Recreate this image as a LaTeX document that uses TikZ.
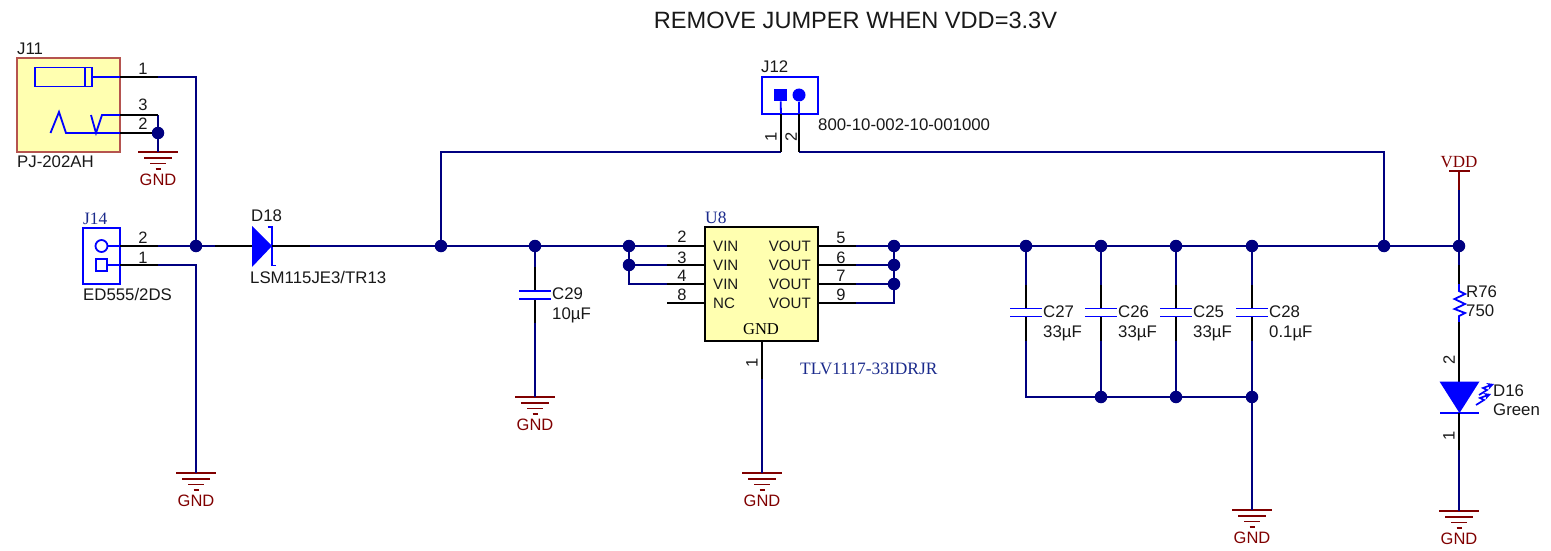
\documentclass[tikz,border=0pt]{standalone}
\usepackage{fontspec}
\usetikzlibrary{arrows.meta}
\setmainfont{Liberation Sans}
\newfontfamily\serifface{Liberation Serif}
\definecolor{wirecol}{HTML}{000080}
\definecolor{symcol}{HTML}{0000FF}
\definecolor{gndcol}{HTML}{800000}
\definecolor{partfill}{HTML}{FFFFB0}
\definecolor{jackedge}{HTML}{B5544F}
\definecolor{partblue}{HTML}{1A2A8C}
\tikzset{
  wire/.style={draw=wirecol,line width=2pt,line join=miter},
  pinline/.style={draw=black,line width=1.9pt},
  sym/.style={draw=symcol,line width=1.8pt},
  dot/.style={circle,fill=wirecol,inner sep=0pt,minimum size=12.5pt},
  lbl/.style={inner sep=0pt,text height=11.8pt,text depth=0pt,anchor=west,font=\fontsize{16.8}{18}\selectfont,text=black!90},
  pinname/.style={lbl,font=\fontsize{15.1}{18}\selectfont},
  pinno/.style={inner sep=0pt,anchor=center,font=\fontsize{16.5}{18}\selectfont,text=black!90},
  serifblue/.style={inner sep=0pt,text height=11pt,text depth=0pt,anchor=west,font=\serifface\fontsize{17.4}{18}\selectfont,text=partblue},
  gndtxt/.style={inner sep=0pt,anchor=center,font=\fontsize{16.5}{18}\selectfont,text=gndcol},
  gndline/.style={draw=gndcol,line width=1.9pt},
}
\newcommand{\gndsym}[3]{% name, x, y of top bar
  \coordinate (#1) at (#2,#3);
  \draw[gndline] (#2-20,#3) -- (#2+20,#3);
  \draw[gndline] (#2-14,#3+6) -- (#2+14,#3+6);
  \draw[gndline] (#2-8,#3+11.5) -- (#2+8,#3+11.5);
  \draw[gndline] (#2-2.5,#3+17) -- (#2+2.5,#3+17);
  \node[gndtxt] (#1txt) at (#2,#3+28) {GND};
}
\newcommand{\capsym}[5]{% name, x, y of top plate, ref, value
  \coordinate (#1a) at (#2,#3-24);
  \coordinate (#1p) at (#2,#3);
  \coordinate (#1q) at (#2,#3+8);
  \coordinate (#1b) at (#2,#3+32);
  \draw[pinline] (#1a) -- (#1p);
  \draw[pinline] (#1q) -- (#1b);
  \draw[sym] (#2-16,#3) -- (#2+16,#3);
  \draw[sym] (#2-16,#3+8) -- (#2+16,#3+8);
  \node[lbl] (#1ref) at (#2+17,#3+3) {#4};
  \node[lbl] (#1val) at (#2+17,#3+23) {#5};
}
\begin{document}
\begin{tikzpicture}[x=1pt,y=-1pt]
\useasboundingbox (0,0) rectangle (1551,551);
\fill[white] (0,0) rectangle (1551,551);

\node[inner sep=0pt,anchor=center,font=\fontsize{23.6}{26}\selectfont,text=black!90] (title) at (855.5,20) {REMOVE JUMPER WHEN VDD=3.3V};

% part bodies
\node[draw=jackedge,fill=partfill,line width=1.4pt,minimum width=103pt,minimum height=94pt,inner sep=0pt] (j11) at (68.5,105) {};
\node[draw=symcol,line width=1.8pt,minimum width=37pt,minimum height=56pt,inner sep=0pt] (j14) at (101.5,256) {};
\node[draw=symcol,line width=1.8pt,minimum width=56pt,minimum height=37pt,inner sep=0pt] (j12) at (790,95.5) {};
\node[draw=black,fill=partfill,line width=1.9pt,minimum width=113pt,minimum height=114pt,inner sep=0pt] (u8) at (761.5,284) {};

% junctions
\foreach \n/\x/\y in {ja/158/133,jb/196/246,jc/441/246,jd/535/246,je/629/246,jf/629/265,
  jg/894/246,jh/894/265,ji/894/284,jj/1026/246,jk/1101/246,jl/1176/246,jm/1252/246,jn/1384/246,jo/1459/246,
  jp/1101/397,jq/1176/397,jr/1252/397}
  \node[dot] (\n) at (\x,\y) {};

% J11 inner symbols
\node[draw=symcol,line width=1.8pt,minimum width=57pt,minimum height=19pt,inner sep=0pt] (plug) at (63.5,77) {};
\draw[sym] (85,67) -- (85,86);
\draw[sym,line join=miter] (50.5,133) -- (59,112) -- (66,133) -- (120,133);
\draw[sym,line join=miter] (91,115) -- (96,133) -- (102,115) -- (120,115);
\draw[sym] (plug.east) -- (120,77);

% J14 inner symbols
\node[draw=symcol,circle,line width=1.8pt,minimum size=12pt,inner sep=0pt] (j14a) at (101.5,246) {};
\node[draw=symcol,line width=1.8pt,minimum size=11.5pt,inner sep=0pt] (j14b) at (101.5,265) {};
\draw[sym] (j14a) -- (120,246);
\draw[sym] (j14b) -- (120,265);

% J12 inner symbols
\node[fill=symcol,minimum size=12.5pt,inner sep=0pt] (j12a) at (780.5,95) {};
\node[fill=symcol,circle,minimum size=13pt,inner sep=0pt] (j12b) at (799,95) {};
\draw[sym] (j12a) -- (781,114);
\draw[sym] (j12b) -- (799,114);

% D18
\fill[symcol] (252,226) -- (272,246) -- (252,267) -- cycle;
\draw[sym] (267.5,227) -- (272,227) -- (272,265.5) -- (276,265.5);

% stub coordinates
\coordinate (a1) at (120,77); \coordinate (a1e) at (158,77);
\coordinate (a3) at (120,115);  \coordinate (a3e) at (158,115);
\coordinate (a2) at (120,133);
\coordinate (b2) at (120,246);  \coordinate (b2e) at (158,246);
\coordinate (b1) at (120,265);\coordinate (b1e) at (158,265);
\coordinate (dl) at (215,246);  \coordinate (da) at (252,246);
\coordinate (dc) at (272,246);  \coordinate (dr) at (310,246);
\coordinate (j12pa) at (781,114); \coordinate (j12qa) at (781,152);
\coordinate (j12pb) at (799,114);   \coordinate (j12qb) at (799,152);

% U8 pins
\foreach \n/\y in {p2/246,p3/265,p4/284,p8/303} {
  \coordinate (\n i) at (705,\y); \coordinate (\n o) at (667,\y);
  \draw[pinline] (\n i) -- (\n o);
}
\foreach \n/\y in {p5/246,p6/265,p7/284,p9/303} {
  \coordinate (\n i) at (818,\y); \coordinate (\n o) at (856,\y);
  \draw[pinline] (\n i) -- (\n o);
}
\coordinate (p1i) at (762,341); \coordinate (p1o) at (762,379);

% capacitors
\capsym{c29}{535}{291}{C29}{10µF}
\capsym{c27}{1026}{308.5}{C27}{33µF}
\capsym{c26}{1101}{308.5}{C26}{33µF}
\capsym{c25}{1176}{308.5}{C25}{33µF}
\capsym{c28}{1252}{308.5}{C28}{0.1µF}

% grounds
\gndsym{g1}{158}{152}
\gndsym{g2}{196}{473}
\gndsym{g3}{535}{397}
\gndsym{g4}{762}{473}
\gndsym{g5}{1252}{510}
\gndsym{g6}{1459}{511}

% VDD
\coordinate (vdd) at (1459,171);
\coordinate (vdde) at (1459,190);
\draw[gndline] (1449,171) -- (1470,171);
\draw[gndline] (vdd) -- (vdde);
\node[inner sep=0pt,anchor=center,font=\serifface\fontsize{17}{18}\selectfont,text=gndcol] (vddtxt) at (1459,162) {VDD};

% R76 and D16 coordinates
\coordinate (rt) at (1459,265);
\coordinate (rp) at (1459,284);
\coordinate (rq) at (1459,322);
\coordinate (lt) at (1459,382);
\coordinate (lb) at (1459,413);
\coordinate (lo) at (1459,450);
\draw[pinline] (rt) -- (rp);
\draw[sym,line join=miter] (rp) -- (1459,291) -- (1465,294) -- (1454.5,299) -- (1465,304) -- (1454.5,309) -- (1465,313) -- (1459,316) -- (rq);
\draw[pinline] (rq) -- (lt);
\fill[symcol] (1439.5,381.5) -- (1479.5,381.5) -- (1459.5,413) -- cycle;
\draw[sym] (1440,413) -- (1479,413);
\draw[pinline] (lb) -- (lo);
\draw[symcol,line width=1.7pt,line join=miter,-{Stealth[length=7pt,width=7pt]}] (1479,395) -- (1487,390) -- (1483,388) -- (1494,384);
\draw[symcol,line width=1.7pt,line join=miter,-{Stealth[length=7pt,width=7pt]}] (1476,405) -- (1484,400) -- (1480,398) -- (1491,394);

% wires
\draw[wire] (a1e) -- (196,77) -- (jb);
\draw[wire] (a3e) -- (158,115) -- (ja);
\draw[wire] (b2e) -- (jb);
\draw[wire] (jb) -- (dl);
\draw[wire] (b1e) -- (196,265) -- (g2);
\draw[wire] (ja) -- (g1);
\draw[wire] (dr) -- (jc);
\draw[wire] (jc) -- (jd);
\draw[wire] (jd) -- (je);
\draw[wire] (je) -- (p2o);
\draw[wire] (je) -- (jf);
\draw[wire] (jf) -- (p3o);
\draw[wire] (jf) -- (629,284) -- (p4o);
\draw[wire] (p5o) -- (jg);
\draw[wire] (p6o) -- (jh);
\draw[wire] (p7o) -- (ji);
\draw[wire] (p9o) -- (894,303) -- (ji);
\draw[wire] (jg) -- (jh);
\draw[wire] (jh) -- (ji);
\draw[wire] (jg) -- (jj);
\draw[wire] (jj) -- (jk);
\draw[wire] (jk) -- (jl);
\draw[wire] (jl) -- (jm);
\draw[wire] (jm) -- (jn);
\draw[wire] (jn) -- (jo);
\draw[wire] (jc) -- (441,152) -- (j12qa);
\draw[wire] (j12qb) -- (1384,152) -- (jn);
\draw[wire] (jd) -- (c29a);
\draw[wire] (c29b) -- (g3);
\draw[wire] (jj) -- (c27a);
\draw[wire] (jk) -- (c26a);
\draw[wire] (jl) -- (c25a);
\draw[wire] (jm) -- (c28a);
\draw[wire] (c27b) -- (1026,397) -- (jp);
\draw[wire] (c26b) -- (jp);
\draw[wire] (c25b) -- (jq);
\draw[wire] (c28b) -- (jr);
\draw[wire] (jp) -- (jq);
\draw[wire] (jq) -- (jr);
\draw[wire] (jr) -- (g5);
\draw[wire] (p1o) -- (g4);
\draw[wire] (vdde) -- (jo);
\draw[wire] (jo) -- (rt);
\draw[wire] (lo) -- (g6);

% black pin segments
\draw[pinline] (a1) -- (a1e);
\draw[pinline] (a3) -- (a3e);
\draw[pinline] (a2) -- (ja);
\draw[pinline] (b2) -- (b2e);
\draw[pinline] (b1) -- (b1e);
\draw[pinline] (dl) -- (da);
\draw[pinline] (dc) -- (dr);
\draw[pinline] (j12pa) -- (j12qa);
\draw[pinline] (j12pb) -- (j12qb);
\draw[pinline] (p1i) -- (p1o);

% texts
\node[lbl] (t1) at (17,49) {J11};
\node[lbl] (t2) at (17,162) {PJ-202AH};
\node[serifblue] (t3) at (83,219) {J14};
\node[lbl] (t4) at (83,295) {ED555/2DS};
\node[lbl] (t5) at (251,216) {D18};
\node[lbl] (t6) at (250,278) {LSM115JE3/TR13};
\node[lbl] (t7) at (761,67) {J12};
\node[lbl] (t8) at (818,125) {800-10-002-10-001000};
\node[serifblue] (t9) at (705,218) {U8};
\node[serifblue] (t10) at (800,369) {TLV1117-33IDRJR};
\node[lbl] (t11) at (1466,292) {R76};
\node[lbl] (t12) at (1466,311) {750};
\node[lbl] (t13) at (1493,391) {D16};
\node[lbl] (t14) at (1493,410) {Green};

\foreach \n/\y/\s in {v1/246/VIN,v2/265/VIN,v3/284/VIN,v4/303/NC}
  \node[pinname] (\n) at (713,\y) {\s};
\foreach \n/\y in {o1/246,o2/265,o3/284,o4/303}
  \node[pinname,anchor=east] (\n) at (811,\y) {VOUT};
\node[inner sep=0pt,anchor=center,font=\serifface\fontsize{16.6}{18}\selectfont,text=black] (ugnd) at (761,329) {GND};

\foreach \n/\x/\y/\s in {n1/143/69/1,n2/143/105/3,n3/143/124/2,n4/143/238/2,n5/143/258/1,
   n6/682/237/2,n7/682/258/3,n8/682/276/4,n9/682/295/8,
   n10/841/238/5,n11/841/258/6,n12/841/276/7,n13/841/295/9}
  \node[pinno] (\n) at (\x,\y) {\s};
\foreach \n/\x/\y/\s in {r1/771/137/1,r2/791/137/2,r3/752/363/1,r4/1449/360/2,r5/1449/436/1}
  \node[pinno,rotate=90] (\n) at (\x,\y) {\s};
\end{tikzpicture}
\end{document}
